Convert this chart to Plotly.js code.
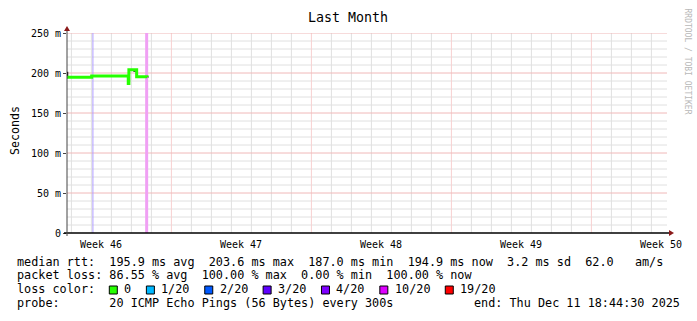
<!DOCTYPE html>
<html><head><meta charset="utf-8">
<script src="https://cdn.plot.ly/plotly-3.0.1.min.js"></script>
<style>html,body{margin:0;padding:0;background:#fff;}#chart{width:697px;height:321px;}</style>
</head><body><div id="chart"></div>
<script>
// ---- data ----
const medianTimes = ['2025-11-11 18:50','2025-11-13 00:20','2025-11-14 20:15','2025-11-14 21:00','2025-11-15 06:20','2025-11-15 18:44'];
const medianValues = [0.1946, 0.1964, 0.1870, 0.2040, 0.1953, 0.1949];
const smokeTimes = ['2025-11-11 19:20','2025-11-11 19:20',null,'2025-11-14 21:30','2025-11-14 21:30',null,'2025-11-15 02:20','2025-11-15 06:20','2025-11-15 06:20',null,'2025-11-15 19:30','2025-11-15 20:30'];
const smokeValues = [0.1935,0.2015,null,0.1885,0.2010,null,0.2025,0.2025,0.1955,null,0.1950,0.1950];
const lossTimes = ['2025-11-13 01:50','2025-11-15 18:20'];
const lossLineColors = ['#ae9cff','#f0a0f4'];
const lossLineWidths = [1, 3];
const xRange = ['2025-11-11 18:44:30','2025-12-11 18:44:30'];
const weekStarts = ['2025-11-17','2025-11-24','2025-12-01','2025-12-08'];
const weekMids = ['2025-11-13 12:00','2025-11-20 12:00','2025-11-27 12:00','2025-12-04 12:00','2025-12-11 12:00'];
const weekLabels = ['Week 46','Week 47','Week 48','Week 49','Week 50'];
const yTickVals = [0, 0.05, 0.10, 0.15, 0.20, 0.25];
const yTickText = ['0','50 m','100 m','150 m','200 m','250 m'];
const lossLabels = ['0','1/20','2/20','3/20','4/20','10/20','19/20'];
const lossColors = ['#26ff00','#00b8ff','#0059ff','#5e00ff','#7e00ff','#dd00ff','#ff0000'];
const rttLine = 'median rtt:  195.9 ms avg  203.6 ms max  187.0 ms min  194.9 ms now  3.2 ms sd  62.0   am/s';
const lossLine = 'packet loss: 86.55 % avg  100.00 % max  0.00 % min  100.00 % now';
const probeLine = 'probe:       20 ICMP Echo Pings (56 Bytes) every 300s';
const endLine = 'end: Thu Dec 11 18:44:30 2025';

// ---- layout helpers ----
const L = 67, T = 33, PW = 600, PH = 200;
const px = v => (v - L) / PW;
const py = v => (T + PH - v) / PH;
const MONO = 'DejaVu Sans Mono';
const gridGray = '#e0e0e0';
const gridRed = '#f0b8b8';
const gridRedV = '#f8d0d0';
const YMAX = 0.25;

function vLines(times) { const x = [], y = []; times.forEach(t => { x.push(t, t, null); y.push(0, YMAX, null); }); return {x, y}; }
function hLines(vals) { const x = [], y = []; vals.forEach(v => { x.push(xRange[0], xRange[1], null); y.push(v, v, null); }); return {x, y}; }
const dayTimes = [];
for (let d = 0; d < 30; d++) dayTimes.push(new Date(Date.UTC(2025, 10, 12 + d)).toISOString().slice(0, 10));
const minorVals = [];
for (let k = 1; k < 25; k++) if (k % 5) minorVals.push(k / 100);
const dayMinor = dayTimes.filter(t => weekStarts.indexOf(t) < 0);

const lineTrace = (d, color, width) => Object.assign({mode: 'lines', line: {color, width}, connectgaps: false, hoverinfo: 'skip'}, d);
const traces = [
  lineTrace(vLines(dayMinor), gridGray, 1),
  lineTrace(hLines(minorVals), gridGray, 1),
  lineTrace(vLines(weekStarts), gridRedV, 1),
  lineTrace(hLines(yTickVals.slice(1)), gridRed, 1)
];
lossTimes.forEach((t, i) => traces.push(lineTrace(vLines([t]), lossLineColors[i], lossLineWidths[i])));
traces.push({x: smokeTimes, y: smokeValues, mode: 'lines', line: {color: '#000', width: 1.5}, connectgaps: false, hoverinfo: 'skip'});
traces.push({x: medianTimes, y: medianValues, mode: 'lines', line: {color: '#26ff00', width: 3, shape: 'hv'}, hoverinfo: 'skip'});

const shapes = [];
shapes.push({type: 'line', xref: 'paper', yref: 'paper', x0: px(64), x1: px(670), y0: 0, y1: 0, line: {color: '#000', width: 1.5}});
shapes.push({type: 'line', xref: 'paper', yref: 'paper', x0: 0, x1: 0, y0: py(236), y1: py(30), line: {color: '#444', width: 1}});
shapes.push({type: 'path', xref: 'paper', yref: 'paper', path: `M ${px(64)} ${py(31)} L ${px(70)} ${py(31)} L ${px(67)} ${py(26)} Z`, fillcolor: '#8b1a1a', line: {width: 0}});
shapes.push({type: 'path', xref: 'paper', yref: 'paper', path: `M ${px(669)} ${py(230)} L ${px(669)} ${py(236)} L ${px(674)} ${py(233)} Z`, fillcolor: '#8b1a1a', line: {width: 0}});

const annotations = [];
weekMids.forEach((t, i) => annotations.push({xref: 'x', yref: 'paper', x: t, y: py(244.5), text: weekLabels[i],
  showarrow: false, xanchor: 'center', yanchor: 'middle', font: {family: MONO, size: 10, color: '#000'}, borderpad: 0}));
annotations.push({xref: 'paper', yref: 'paper', x: px(15), y: py(131), text: 'Seconds', textangle: -90, showarrow: false,
  xanchor: 'center', yanchor: 'middle', font: {family: MONO, size: 11.6, color: '#000'}});
annotations.push({xref: 'paper', yref: 'paper', x: px(687.5), y: py(61), text: 'RRDTOOL / TOBI OETIKER', textangle: 90, showarrow: false,
  xanchor: 'center', yanchor: 'middle', font: {family: MONO, size: 8, color: '#b8b8b8'}});
const legFont = {family: MONO, size: 11.8, color: '#000'};
const row = (txt, x, y, anchor) => annotations.push({xref: 'paper', yref: 'paper', x: px(x), y: py(y), text: txt.replace(/ /g, '&nbsp;'),
  showarrow: false, xanchor: anchor || 'left', yanchor: 'middle', font: legFont, borderpad: 0});
row(rttLine, 16, 261.7);
row(lossLine, 16, 275);
row('loss color:', 16, 289.3);
row(probeLine, 16, 302.7);
row(endLine, 680.5, 302.7, 'right');
let cx = 109.3;
const cw = 7.09;
lossLabels.forEach((lab, i) => {
  shapes.push({type: 'rect', xref: 'paper', yref: 'paper', x0: px(cx), x1: px(cx + 8), y0: py(294), y1: py(286),
    fillcolor: lossColors[i], line: {color: '#000', width: 1}});
  row(lab, cx + 14, 289.3);
  cx = cx + 14 + lab.length * cw + 16;
});

const layout = {
  width: 697, height: 321,
  margin: {l: L, r: 697 - L - PW, t: T, b: 321 - T - PH, pad: 0},
  paper_bgcolor: '#fff', plot_bgcolor: '#fff',
  showlegend: false,
  title: {text: 'Last Month', font: {family: MONO, size: 13.3, color: '#000'}, x: 348 / 697, xanchor: 'center', y: 1 - 17 / 321, yanchor: 'middle'},
  xaxis: {type: 'date', range: xRange, showticklabels: false,
    showgrid: false, ticks: '', zeroline: false, showline: false, fixedrange: true},
  yaxis: {range: [0, YMAX], tickmode: 'array', tickvals: yTickVals, ticktext: yTickText,
    showgrid: false, ticks: 'outside', ticklen: 3, tickcolor: '#444',
    tickfont: {family: MONO, size: 10, color: '#000'},
    zeroline: false, showline: false, fixedrange: true},
  shapes: shapes,
  annotations: annotations
};
Plotly.newPlot('chart', traces, layout, {displayModeBar: false, staticPlot: true});
</script>
</body></html>
